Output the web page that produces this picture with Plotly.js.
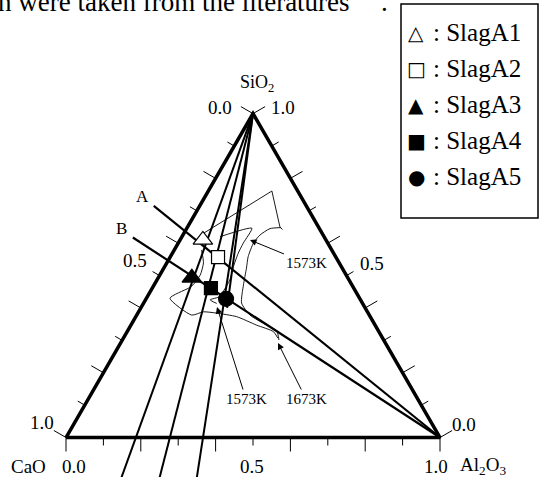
<!DOCTYPE html>
<html><head><meta charset="utf-8">
<script src="https://cdn.plot.ly/plotly-3.0.1.min.js"></script>
<style>html,body{margin:0;padding:0;background:#fff}#chart{width:540px;height:477px}</style>
</head><body><div id="chart"></div>
<script>
// ---- data (mass fractions) ----
const slagNames   = ['SlagA1','SlagA2','SlagA3','SlagA4','SlagA5'];
const slagCaO     = [0.329, 0.315, 0.417, 0.382, 0.358];
const slagSiO2    = [0.610, 0.557, 0.493, 0.461, 0.428];
const slagAl2O3   = [0.061, 0.128, 0.090, 0.157, 0.214];
const slagSymbols = ['triangle-up','square','triangle-up','square','circle'];
const slagFill    = ['white','white','black','black','black'];
const legendGlyphs = ['\u25B3','\u25A1','\u25B2','\u25A0','\u25CF'];

// lines from the SiO2 corner (constant CaO/Al2O3)
const siLineRatio   = [4.35, 2.60, 1.73, 1.60];
const siLineEndSiO2 = [-0.13, -0.13, -0.13, 0.40];

// lines from the Al2O3 corner (constant CaO/SiO2)
const alLineLabels   = ['A','B'];
const alLineRatio    = [0.57, 0.83];
const alLineEndAl2O3 = [-0.123, -0.130];

// isotherm boundaries
const isoU1SiO2  = [0.630, 0.761, 0.650, 0.642];
const isoU1Al2O3 = [0.052, 0.170, 0.247, 0.258];
const isoU2SiO2  = [0.648,0.645,0.625,0.600,0.558,0.523,0.471,0.415,0.378,0.347,0.329,0.301];
const isoU2Al2O3 = [0.251,0.223,0.206,0.201,0.208,0.221,0.239,0.262,0.303,0.363,0.399,0.419];
const isoU3SiO2  = [0.620,0.646,0.600,0.569,0.527,0.486,0.455,0.435,0.425,0.414];
const isoU3Al2O3 = [0.102,0.174,0.174,0.176,0.184,0.195,0.195,0.194,0.173,0.196];
const isoLSiO2   = [0.579,0.539,0.502,0.471,0.461,0.430,0.378,0.388,0.384,0.373,0.347,0.327,0.307];
const isoLAl2O3  = [0.073,0.098,0.108,0.104,0.097,0.063,0.147,0.173,0.211,0.270,0.336,0.391,0.413];

const tickValues = [0,0.1,0.2,0.3,0.4,0.5,0.6,0.7,0.8,0.9,1.0];
const tickLabelValues = [0.0, 0.5, 1.0];
const cornerSiO2  = [0, 1, 0];
const cornerAl2O3 = [0, 0, 1];

// ---- helpers ----
const S3 = Math.sqrt(3)/2;
const PX = 374;              // pixels per unit side
const W = 540, H = 477;
const tx = (si, al) => al + si/2;
const ty = (si) => si*S3;
const FONT = 'Liberation Serif, Times New Roman, serif';

const traces = [];

siLineRatio.forEach((r, i) => {
  const sis = [1, siLineEndSiO2[i]];
  traces.push({type:'scatter', mode:'lines', hoverinfo:'skip',
    x: sis.map(s => tx(s, (1-s)/(1+r))), y: sis.map(s => ty(s)),
    line:{color:'black', width:2}});
});
alLineRatio.forEach((r, i) => {
  const als = [1, alLineEndAl2O3[i]];
  traces.push({type:'scatter', mode:'lines', hoverinfo:'skip',
    x: als.map(a => tx((1-a)/(1+r), a)), y: als.map(a => ty((1-a)/(1+r))),
    line:{color:'black', width:2.2}});
});
[[isoU1SiO2, isoU1Al2O3,'linear'], [isoU2SiO2, isoU2Al2O3,'spline'],
 [isoU3SiO2, isoU3Al2O3,'spline'], [isoLSiO2, isoLAl2O3,'spline']].forEach(([s,a,shape]) => {
  traces.push({type:'scatter', mode:'lines', hoverinfo:'skip',
    x: s.map((v,k) => tx(v, a[k])), y: s.map(v => ty(v)),
    line:{color:'black', width:0.9, shape:shape, smoothing:0.6}});
});
{
  const s = cornerSiO2.concat([cornerSiO2[0]]), a = cornerAl2O3.concat([cornerAl2O3[0]]);
  traces.push({type:'scatter', mode:'lines', hoverinfo:'skip',
    x: s.map((v,k)=>tx(v,a[k])), y: s.map(v=>ty(v)),
    line:{color:'black', width:3.5}});
}
{
  const xs = [], ys = [];
  tickValues.forEach((v, i) => {
    const L = (i % 2 === 0 ? 14 : 8) / PX;
    xs.push(v, v, null); ys.push(0, -L, null);
    const lx = (1-v)/2, ly = (1-v)*S3;
    xs.push(lx, lx - S3*L, null); ys.push(ly, ly + 0.5*L, null);
    const rx = 1 - v/2, ry = v*S3;
    xs.push(rx, rx + S3*L, null); ys.push(ry, ry + 0.5*L, null);
  });
  traces.push({type:'scatter', mode:'lines', hoverinfo:'skip', x:xs, y:ys,
    line:{color:'black', width:1}});
}
slagNames.forEach((n, i) => {
  const sz = slagSymbols[i]==='square' ? 13 : (slagSymbols[i]==='circle' ? 15 : 17);
  traces.push({type:'scatter', mode:'markers', name:n,
    x:[tx(slagSiO2[i], slagAl2O3[i])], y:[ty(slagSiO2[i])],
    marker:{symbol:slagSymbols[i], size:sz,
      color:slagFill[i], line:{color:'black', width:1.2}}});
});

// ---- annotations ----
const ann = [];
const pfx = (px) => px / W, pfy = (py) => 1 - py / H;
const txt = (t, px, py, size, extra) => Object.assign({
  text:t, xref:'paper', yref:'paper', x:pfx(px), y:pfy(py), showarrow:false,
  xanchor:'center', yanchor:'middle', font:{family:FONT, size:size, color:'black'}}, extra||{});

const fmt = v => v.toFixed(1);
tickLabelValues.forEach((v, i) => {
  const baseShift = [8, -1, -4][i];
  ann.push({text:fmt(v), x:v, y:0, xref:'x', yref:'y', showarrow:false, xanchor:'center', yanchor:'middle',
    xshift:baseShift, yshift:-28.5, font:{family:FONT, size:19, color:'black'}});
  const leftShift = [[-33,6],[-24.5,15],[-24,15.5]][i];
  ann.push({text:fmt(v), x:(1-v)/2, y:(1-v)*S3, xref:'x', yref:'y', showarrow:false, xanchor:'center', yanchor:'middle',
    xshift:leftShift[0], yshift:leftShift[1], font:{family:FONT, size:19, color:'black'}});
  const rightShift = [[24,13.5],[25.5,12],[30,6]][i];
  ann.push({text:fmt(v), x:1-v/2, y:v*S3, xref:'x', yref:'y', showarrow:false, xanchor:'center', yanchor:'middle',
    xshift:rightShift[0], yshift:rightShift[1], font:{family:FONT, size:19, color:'black'}});
});
ann.push({text:'SiO<sub>2</sub>', x:tx(1,0), y:ty(1), xref:'x', yref:'y', showarrow:false,
  xanchor:'center', yanchor:'middle', xshift:4, yshift:30, font:{family:FONT, size:18, color:'black'}});
ann.push({text:'CaO', x:0, y:0, xref:'x', yref:'y', showarrow:false,
  xanchor:'center', yanchor:'middle', xshift:-38, yshift:-28.5, font:{family:FONT, size:19, color:'black'}});
ann.push({text:'Al<sub>2</sub>O<sub>3</sub>', x:1, y:0, xref:'x', yref:'y', showarrow:false,
  xanchor:'center', yanchor:'middle', xshift:43, yshift:-28.5, font:{family:FONT, size:19, color:'black'}});
alLineLabels.forEach((l, i) => {
  const a = alLineEndAl2O3[i], s = (1-a)/(1+alLineRatio[i]);
  ann.push({text:l, x:tx(s,a), y:ty(s), xref:'x', yref:'y', showarrow:false,
    xanchor:'center', yanchor:'middle', xshift:-11, yshift:9, font:{family:FONT, size:17, color:'black'}});
});
const arrowLabel = (t, tipx, tipy, lx, ly) => ({text:t, xref:'paper', yref:'paper',
  x:pfx(tipx), y:pfy(tipy), ax:lx-tipx, ay:ly-tipy, showarrow:true, arrowhead:2, arrowsize:1.3,
  arrowwidth:1, arrowcolor:'black', font:{family:FONT, size:15, color:'black'}});
ann.push(arrowLabel('1573K', 250, 240, 306, 263));
ann.push(arrowLabel('1573K', 217, 307, 246, 399));
ann.push(arrowLabel('1673K', 278, 343, 306, 399));

// legend
slagNames.forEach((n, i) => {
  const py = 33 + i*36;
  ann.push(txt(legendGlyphs[i], 416, py, 20, {font:{family:'DejaVu Sans', size:20, color:'black'}}));
  ann.push(txt(': ' + n, 431, py, 25, {xanchor:'left'}));
});
// page text fragment at top
ann.push(txt('n were taken from the literatures', -4, 2, 27, {xanchor:'left'}));
ann.push(txt('.', 384, 2, 27, {xanchor:'center'}));

const layout = {
  width:W, height:H, margin:{l:0, r:0, t:0, b:0},
  paper_bgcolor:'white', plot_bgcolor:'white', showlegend:false,
  xaxis:{range:[-66/PX, (W-66)/PX], visible:false, fixedrange:true},
  yaxis:{range:[(437.5-H)/PX, 437.5/PX], visible:false, fixedrange:true},
  annotations: ann,
  shapes:[{type:'rect', xref:'paper', yref:'paper', x0:pfx(401), x1:pfx(538), y0:pfy(218), y1:pfy(4),
    line:{color:'black', width:1.5}, fillcolor:'rgba(0,0,0,0)'}]
};
Plotly.newPlot('chart', traces, layout, {staticPlot:true, displayModeBar:false});
</script></body></html>
